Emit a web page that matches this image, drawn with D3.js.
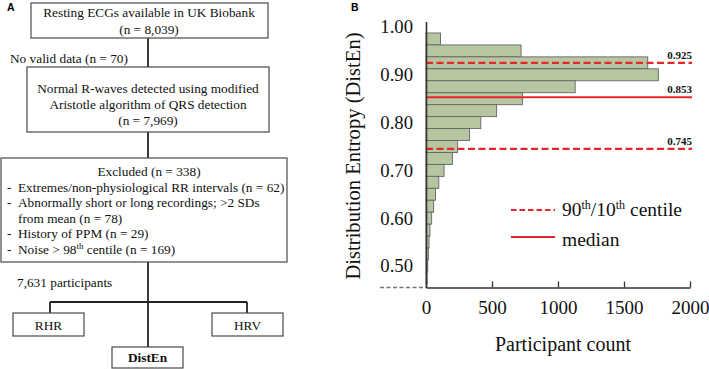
<!DOCTYPE html>
<html>
<head>
<meta charset="utf-8">
<script src="https://cdn.jsdelivr.net/npm/d3@7"></script>
<style>
  html, body { margin: 0; padding: 0; background: #fff; }
  svg { display: block; }
</style>
</head>
<body>
<svg id="chart" width="709" height="369"></svg>
<script>
// ---------- Data (panel B histogram) ----------
const binCenters = [0.975, 0.95, 0.925, 0.90, 0.875, 0.85, 0.825, 0.80, 0.775, 0.75, 0.725,
                    0.70, 0.675, 0.65, 0.625, 0.60, 0.575, 0.55, 0.525, 0.50, 0.475];
const binCounts  = [110, 720, 1680, 1760, 1130, 730, 535, 415, 330, 240, 200,
                    137, 97, 72, 58, 43, 30, 23, 18, 13, 8];
const binWidth = 0.025;
const yTicks = [0.50, 0.60, 0.70, 0.80, 0.90, 1.00];
const xTicks = [0, 500, 1000, 1500, 2000];
const refValues = [0.925, 0.853, 0.745];
const refLabels = ["0.925", "0.853", "0.745"];
const refKinds  = ["dashed", "solid", "dashed"];

// ---------- Flowchart text (panel A) ----------
const box1Lines = ["Resting ECGs available in UK Biobank", "(n = 8,039)"];
const box2Lines = ["Normal R-waves detected using modified", "Aristotle algorithm of QRS detection", "(n = 7,969)"];
const excludedTitle = "Excluded (n = 338)";
const excludedItems = [
  ["-", "Extremes/non-physiological RR intervals (n = 62)"],
  ["-", "Abnormally short or long recordings; >2 SDs"],
  ["",  "from mean  (n = 78)"],
  ["-", "History of PPM (n = 29)"],
  ["-", "NOISE"]
];
const noValidText = "No valid data (n = 70)";
const participantsText = "7,631 participants";
const outcomeBoxes = ["RHR", "HRV", "DistEn"];

const svg = d3.select("#chart");
const serif = "'Liberation Serif', 'Times New Roman', serif";
const sans = "'Liberation Sans', Arial, sans-serif";
const red = "#e8262a";

// ================= Panel A =================
const A = svg.append("g");
const fs = 13.3;
const boxStroke = "#4a4a4a";
const lineColor = "#222";

A.append("text").attr("x", 7).attr("y", 11).attr("font-family", sans)
  .attr("font-weight", "bold").attr("font-size", 10.5).text("A");

function box(x, y, w, h) {
  A.append("rect").attr("x", x).attr("y", y).attr("width", w).attr("height", h)
    .attr("fill", "#fff").attr("stroke", boxStroke).attr("stroke-width", 1.2);
}
function vline(x, y1, y2) {
  A.append("line").attr("x1", x).attr("x2", x).attr("y1", y1).attr("y2", y2)
    .attr("stroke", lineColor).attr("stroke-width", 1.8);
}
function hline(x1, x2, y) {
  A.append("line").attr("x1", x1).attr("x2", x2).attr("y1", y).attr("y2", y)
    .attr("stroke", lineColor).attr("stroke-width", 1.8);
}
function txt(x, y, s, anchor, weight) {
  return A.append("text").attr("x", x).attr("y", y).attr("font-family", serif)
    .attr("font-size", fs).attr("fill", "#111").attr("text-anchor", anchor || "start")
    .attr("font-weight", weight || "normal").text(s);
}

const cx = 148;
// connectors
vline(cx, 38, 67);
vline(cx, 132, 158);
vline(cx, 262, 347);
hline(50, 247, 302);
vline(50, 302, 313);
vline(247, 302, 313);

// box 1
box(31, 3, 237, 35);
box1Lines.forEach((s, i) => txt(cx + 1, 17 + i * 16.5, s, "middle"));
// no valid
txt(10, 63, noValidText);
// box 2
box(27, 67, 242, 65);
box2Lines.forEach((s, i) => txt(cx, 92.5 + i * 16.3, s, "middle"));
// box 3
box(1, 158, 286, 104);
txt(cx + 1, 176, excludedTitle, "middle");
excludedItems.forEach((it, i) => {
  const yy = 191.5 + i * 15.5;
  if (it[0]) txt(7, yy, it[0]);
  if (it[1] === "NOISE") {
    const t = txt(18, yy, "Noise > 98");
    t.append("tspan").attr("font-size", 9).attr("dy", -5).text("th");
    t.append("tspan").attr("dy", 5).text(" centile (n = 169)");
  } else {
    txt(18, yy, it[1]);
  }
});
txt(17, 286.5, participantsText);
// outcome boxes
box(13, 313, 71, 23);
txt(48.5, 329.5, outcomeBoxes[0], "middle");
box(212, 313, 71, 23);
txt(247.5, 329.5, outcomeBoxes[1], "middle");
box(112, 347, 71, 21);
txt(147.5, 362, outcomeBoxes[2], "middle", "bold");

// ================= Panel B =================
const B = svg.append("g");
B.append("text").attr("x", 351).attr("y", 11).attr("font-family", sans)
  .attr("font-weight", "bold").attr("font-size", 10.5).text("B");

const x = d3.scaleLinear().domain([0, 2000]).range([426, 690]);
const y = d3.scaleLinear().domain([0.455, 1.0115]).range([287.5, 21.5]);

// bars
B.selectAll("rect.bar").data(binCenters).join("rect")
  .attr("class", "bar")
  .attr("x", x(0))
  .attr("y", d => y(d + binWidth / 2))
  .attr("width", (d, i) => x(binCounts[i]) - x(0))
  .attr("height", d => y(d - binWidth / 2) - y(d + binWidth / 2))
  .attr("fill", "#b6c6a1")
  .attr("stroke", "#666")
  .attr("stroke-width", 0.9);

// reference lines
refValues.forEach((v, i) => {
  B.append("line").attr("x1", x(0)).attr("x2", 692)
    .attr("y1", y(v)).attr("y2", y(v))
    .attr("stroke", red).attr("stroke-width", 2.2)
    .attr("stroke-dasharray", refKinds[i] === "dashed" ? "7,3.5" : null);
  B.append("text").attr("x", 692).attr("y", y(v) - 4)
    .attr("text-anchor", "end").attr("font-family", serif)
    .attr("font-weight", "bold").attr("font-size", 11).attr("fill", "#111")
    .text(refLabels[i]);
});

// x axis
const xAxis = d3.axisBottom(x).tickValues(xTicks).tickSizeInner(-6).tickSizeOuter(0)
  .tickPadding(13).tickFormat(d3.format("d"));
const gx = B.append("g").attr("transform", `translate(0,${y(0.455)})`).call(xAxis);
gx.select(".domain").attr("stroke", "#333").attr("stroke-width", 1.6);
gx.selectAll(".tick line").attr("stroke", "#333").attr("stroke-width", 1.3);
gx.selectAll(".tick text").attr("font-family", serif).attr("font-size", 19).attr("fill", "#111");

// y axis
const yAxis = d3.axisLeft(y).tickValues(yTicks).tickSize(0).tickPadding(13)
  .tickFormat(d3.format(".2f"));
const gy = B.append("g").attr("transform", `translate(${x(0)},0)`).call(yAxis);
gy.select(".domain").attr("stroke", "#333").attr("stroke-width", 1.6);
gy.selectAll(".tick text").attr("font-family", serif).attr("font-size", 18.7).attr("fill", "#111");

// gray dashed stub left of origin
B.append("line").attr("x1", 380).attr("x2", x(0)).attr("y1", y(0.455)).attr("y2", y(0.455))
  .attr("stroke", "#777").attr("stroke-width", 1.6).attr("stroke-dasharray", "4,2.5");

// axis titles
B.append("text").attr("transform", `translate(359.5,156) rotate(-90)`)
  .attr("text-anchor", "middle").attr("font-family", serif).attr("font-size", 20.6)
  .attr("fill", "#111").text("Distribution Entropy (DistEn)");
B.append("text").attr("x", 563).attr("y", 351).attr("text-anchor", "middle")
  .attr("font-family", serif).attr("font-size", 20).attr("fill", "#111")
  .text("Participant count");

// legend
B.append("line").attr("x1", 511).attr("x2", 555).attr("y1", 210).attr("y2", 210)
  .attr("stroke", red).attr("stroke-width", 2.2).attr("stroke-dasharray", "5.5,3");
const lt = B.append("text").attr("x", 562).attr("y", 216).attr("font-family", serif)
  .attr("font-size", 19.5).attr("fill", "#111");
lt.append("tspan").text("90");
lt.append("tspan").attr("font-size", 12).attr("dy", -7).text("th");
lt.append("tspan").attr("dy", 7).text("/10");
lt.append("tspan").attr("font-size", 12).attr("dy", -7).text("th");
lt.append("tspan").attr("dy", 7).text(" centile");
B.append("line").attr("x1", 511).attr("x2", 555).attr("y1", 237).attr("y2", 237)
  .attr("stroke", red).attr("stroke-width", 2.2);
B.append("text").attr("x", 562).attr("y", 246).attr("font-family", serif)
  .attr("font-size", 19.5).attr("fill", "#111").text("median");
</script>
</body>
</html>
